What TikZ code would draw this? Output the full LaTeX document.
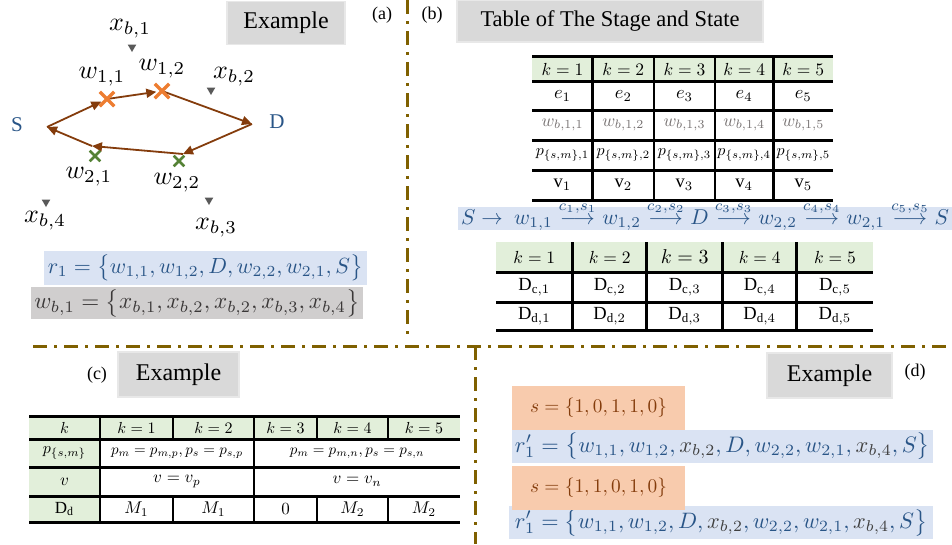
\documentclass[tikz,border=0pt]{standalone}
\usepackage{amsmath}
\usepackage{graphicx}
\usepackage{fontspec}
\setmainfont{Liberation Serif}
\usetikzlibrary{arrows.meta,shapes.misc,shapes.geometric}
\definecolor{arrbrown}{RGB}{132,60,12}
\definecolor{crossor}{RGB}{237,125,49}
\definecolor{crossgr}{RGB}{84,130,53}
\definecolor{mblue}{RGB}{41,85,135}
\definecolor{bluefill}{RGB}{218,227,243}
\definecolor{grayfill}{RGB}{208,206,206}
\definecolor{graytxt}{RGB}{59,56,56}
\definecolor{exfill}{RGB}{217,217,217}
\definecolor{exedge}{RGB}{232,232,232}
\definecolor{greenfill}{RGB}{226,239,218}
\definecolor{orfill}{RGB}{248,203,173}
\definecolor{divc}{RGB}{127,96,0}
\definecolor{trig}{RGB}{89,89,89}
\definecolor{wbgray}{RGB}{118,113,113}
\definecolor{xgray}{RGB}{64,64,64}
\newcommand{\mcell}[2]{\scalebox{#1}{$#2$}}
\newcommand{\labarr}[1]{\mathrel{\overset{\raisebox{1pt}{$\scriptstyle #1$}}{\longrightarrow}}}
\tikzset{
  divider/.style={draw=divc,line width=3pt,dash pattern=on 14pt off 7pt on 3pt off 7pt},
  exbox/.style={fill=exfill,draw=exedge,line width=1.2pt,inner sep=0,font=\fontsize{24}{28}\selectfont},
  plab/.style={inner sep=0,font=\fontsize{18}{21}\selectfont},
  lblA/.style={inner sep=0},
  sdlab/.style={inner sep=0,text=mblue,font=\fontsize{21}{25}\selectfont},
  flow/.style={draw=arrbrown,line width=1.8pt,-{Triangle[length=10pt,width=9pt]}},
  ocross/.style={cross out,draw=crossor,line width=3.5pt,minimum size=11pt,inner sep=0},
  gcross/.style={cross out,draw=crossgr,line width=2.6pt,minimum size=8pt,inner sep=0},
  tri/.style={regular polygon,regular polygon sides=3,shape border rotate=180,fill=trig,minimum size=10pt,inner sep=0},
  hline/.style={line width=3pt},
  vline/.style={line width=2.5pt},
  cellb/.style={inner sep=0},
  cellc/.style={inner sep=0},
  band/.style={inner sep=0}
}
\begin{document}
\begin{tikzpicture}[x=1pt,y=-1pt]
\useasboundingbox (0,0) rectangle (952,544);

% ---------------- dividers
\draw[divider] (407,0) -- (407,340);
\draw[divider] (33,346) -- (952,346);
\draw[divider] (475,346) -- (475,544);

% ---------------- panel (a)
\node[exbox,minimum width=118pt,minimum height=43pt] (exa) at (286,23) {Example};
\node[plab] (la) at (382,15) {(a)};

\node[sdlab] (S) at (17,125) {S};
\node[sdlab] (D) at (277,122) {D};

\coordinate (pS) at (47,127);
\coordinate (pD) at (252,124);
\coordinate (pL2) at (183,154);
\coordinate (pL1) at (92,146);
\node[inner sep=0,minimum size=11pt] (w11) at (107,99) {};
\node[inner sep=0,minimum size=11pt] (w12) at (162,91) {};

\draw[flow] (pS) -- (w11);
\draw[flow] (w11.center) -- (w12);
\draw[flow] (w12.center) -- (pD);
\draw[flow] (pD) -- (pL2);
\draw[flow] (pL2) -- (pL1);
\draw[flow] (pL1) -- (pS);

\node[ocross] (c11) at (107,99) {};
\node[ocross] (c12) at (162,91) {};
\node[gcross] (c21) at (95,156) {};
\node[gcross] (c22) at (179,161) {};

\node[tri] (t1) at (132,47) {};
\node[tri] (t2) at (211,90) {};
\node[tri] (t3) at (209,200) {};
\node[tri] (t4) at (46,202) {};

\node[lblA] (lx1) at (130,29) {\mcell{2.6}{x_{b,1}}};
\node[lblA] (lw11) at (102,77) {\mcell{2.6}{w_{1,1}}};
\node[lblA] (lw12) at (162,69) {\mcell{2.6}{w_{1,2}}};
\node[lblA] (lx2) at (234,77) {\mcell{2.6}{x_{b,2}}};
\node[lblA] (lw21) at (89,177) {\mcell{2.6}{w_{2,1}}};
\node[lblA] (lw22) at (177,183) {\mcell{2.6}{w_{2,2}}};
\node[lblA] (lx4) at (45,221) {\mcell{2.6}{x_{b,4}}};
\node[lblA] (lx3) at (216,228) {\mcell{2.6}{x_{b,3}}};

\node[band,fill=bluefill,minimum width=323pt,minimum height=34pt,text=mblue] (r1) at (205.5,268)
  {\resizebox{315pt}{!}{$r_1=\bigl\{w_{1,1},w_{1,2},D,w_{2,2},w_{2,1},S\bigr\}$}};
\node[band,fill=grayfill,minimum width=332pt,minimum height=32pt,text=graytxt] (wb1) at (197,303)
  {\resizebox{325pt}{!}{$w_{b,1}=\bigl\{x_{b,1},x_{b,2},x_{b,2},x_{b,3},x_{b,4}\bigr\}$}};

% ---------------- panel (b)
\node[plab] (lb) at (432,15) {(b)};
\node[exbox,minimum width=306pt,minimum height=42pt,font=\fontsize{22.5}{26}\selectfont] (title) at (610,21) {Table of The Stage and State};

\fill[greenfill] (532.3,56) rectangle (833.3,81.7);
\foreach \y in {56,81.7,110,140,170,200} \draw[hline] (532.3,\y) -- (833.3,\y);
\foreach \x in {592.7,654,715,773.3} \draw[vline] (\x,56) -- (\x,200);
\foreach \x [count=\i] in {562.5,623.35,684.5,744.15,803.3} {
  \node[cellb] (ta-k\i) at (\x,69) {\mcell{1.75}{k=\i}};
  \node[cellb] (ta-e\i) at (\x,96) {\mcell{1.85}{e_{\i}}};
  \node[cellb,text=wbgray] (ta-w\i) at (\x,125) {\mcell{1.75}{w_{b,1,\i}}};
  \node[cellb] (ta-p\i) at (\x,155) {\mcell{1.6}{p_{\{s,m\},\i}}};
  \node[cellb] (ta-v\i) at (\x,185) {\mcell{1.85}{\mathrm{v}_{\i}}};
}

\node[band,fill=bluefill,minimum width=494pt,minimum height=23pt] (bandb) at (705,218.5) {};
\node[band,text=mblue] (chain) at (705,216)
  {\resizebox{488pt}{!}{$S\rightarrow\ w_{1,1}\labarr{c_1,s_1}w_{1,2}\labarr{c_2,s_2}D\labarr{c_3,s_3}w_{2,2}\labarr{c_4,s_4}w_{2,1}\labarr{c_5,s_5}S$}};

\fill[greenfill] (496,242) rectangle (873.3,272);
\foreach \y in {272,302,330} \draw[hline] (496,\y) -- (873.3,\y);
\foreach \x in {572.7,646.7,722.7,796.7} \draw[vline] (\x,242) -- (\x,331);
\foreach \x/\s [count=\i] in {534.35/1.75,609.7/1.75,684.7/2.0,759.7/1.75,835/1.75} {
  \node[cellb] (tb-k\i) at (\x,257) {\mcell{\s}{k=\i}};
  \node[cellb] (tb-c\i) at (\x,287) {\mcell{1.85}{\mathrm{D}_{\mathrm{c},\i}}};
  \node[cellb] (tb-d\i) at (\x,316) {\mcell{1.85}{\mathrm{D}_{\mathrm{d},\i}}};
}

% ---------------- panel (c)
\node[plab] (lc) at (97,375) {(c)};
\node[exbox,minimum width=121pt,minimum height=45pt] (exc) at (178.5,374.5) {Example};

\fill[greenfill] (29,416) rectangle (460,439);
\fill[greenfill] (29,416) rectangle (100,522);
\foreach \y in {416,439,467,496,522} \draw[hline] (29,\y) -- (460,\y);
\foreach \x in {100,254} \draw[vline] (\x,416) -- (\x,522);
\foreach \x in {173,317,388} {
  \draw[vline] (\x,416) -- (\x,439);
  \draw[vline] (\x,496) -- (\x,522);
}
\node[cellc] (tc-h0) at (64.5,427.5) {\mcell{1.6}{k}};
\foreach \x [count=\i] in {136.5,213.5,285.5,352.5,424} {
  \node[cellc] (tc-h\i) at (\x,427.5) {\mcell{1.6}{k=\i}};
}
\node[cellc] (tc-p0) at (64.5,453) {\mcell{1.6}{p_{\{s,m\}}}};
\node[cellc] (tc-p1) at (177,453) {\mcell{1.5}{p_m=p_{m,p},p_s=p_{s,p}}};
\node[cellc] (tc-p2) at (357,453) {\mcell{1.5}{p_m=p_{m,n},p_s=p_{s,n}}};
\node[cellc] (tc-v0) at (64.5,481.5) {\mcell{1.7}{v}};
\node[cellc] (tc-v1) at (177,481.5) {\mcell{1.7}{v=v_p}};
\node[cellc] (tc-v2) at (357,481.5) {\mcell{1.7}{v=v_n}};
\node[cellc] (tc-d0) at (64.5,509) {\mcell{1.7}{\mathrm{D}_{\mathrm{d}}}};
\node[cellc] (tc-d1) at (136.5,509) {\mcell{1.7}{M_1}};
\node[cellc] (tc-d2) at (213.5,509) {\mcell{1.7}{M_1}};
\node[cellc] (tc-d3) at (285.5,509) {\mcell{1.7}{0}};
\node[cellc] (tc-d4) at (352.5,509) {\mcell{1.7}{M_2}};
\node[cellc] (tc-d5) at (424,509) {\mcell{1.7}{M_2}};

% ---------------- panel (d)
\node[exbox,minimum width=125pt,minimum height=45pt] (exd) at (829.5,375.5) {Example};
\node[plab] (ld) at (915,372) {(d)};

\node[band,fill=orfill,minimum width=173pt,minimum height=44pt,text=arrbrown] (s1) at (598.5,408)
  {\resizebox{137pt}{!}{$s=\{1,0,1,1,0\}$}};
\node[band,fill=bluefill,minimum width=421pt,minimum height=33pt,text=mblue] (rp1) at (722.5,446.5)
  {\resizebox{415pt}{!}{$r_1'=\bigl\{w_{1,1},w_{1,2},\textcolor{xgray}{x_{b,2}},D,w_{2,2},w_{2,1},\textcolor{xgray}{x_{b,4}},S\bigr\}$}};
\node[band,fill=bluefill,minimum width=424pt,minimum height=33pt,text=mblue] (rp2) at (721,522.5)
  {\resizebox{412pt}{!}{$r_1'=\bigl\{w_{1,1},w_{1,2},D,\textcolor{xgray}{x_{b,2}},w_{2,2},w_{2,1},\textcolor{xgray}{x_{b,4}},S\bigr\}$}};
\node[band,fill=orfill,minimum width=173pt,minimum height=44pt,text=arrbrown] (s2) at (598.5,488)
  {\resizebox{137pt}{!}{$s=\{1,1,0,1,0\}$}};
\end{tikzpicture}
\end{document}
